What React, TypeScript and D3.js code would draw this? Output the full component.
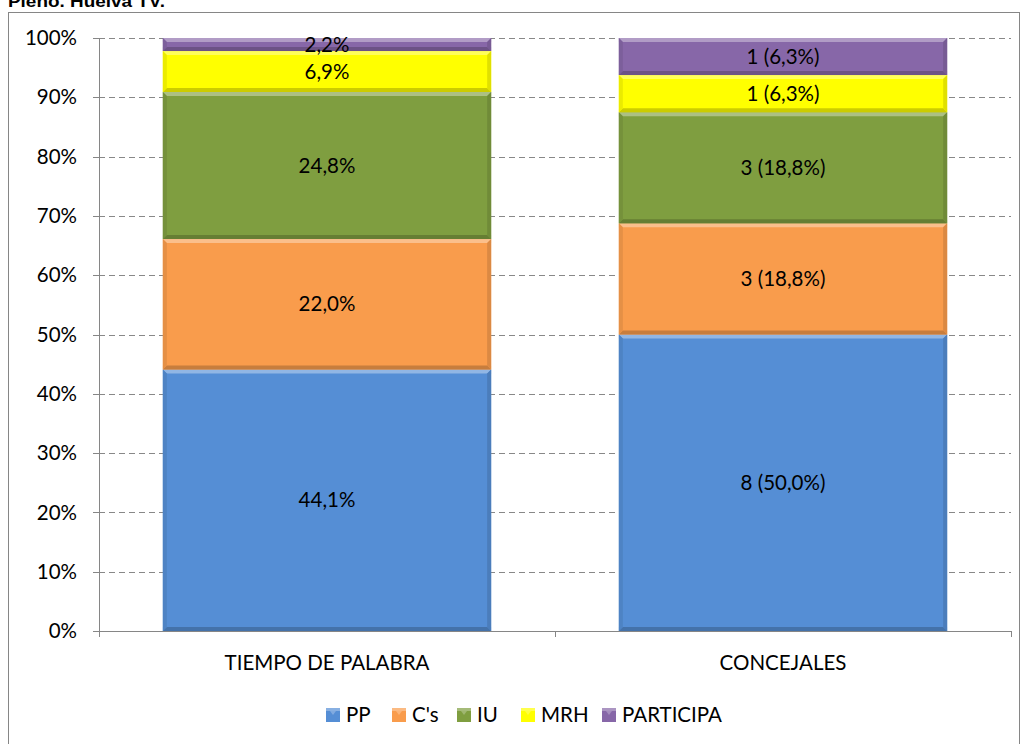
import React from 'react';
import * as d3 from 'd3';

const categories = ['TIEMPO DE PALABRA', 'CONCEJALES'];
const parties = ['PP', "C's", 'IU', 'MRH', 'PARTICIPA'];
const colors = ['#558ED5', '#F99C4C', '#7F9E40', '#FFFF00', '#8767A8'];
// percentages per party, one value per category
const tiempo = [44.1, 22.0, 24.8, 6.9, 2.2];
const concejales = [8, 3, 3, 1, 1];
const concejalesPct = [50.0, 18.75, 18.75, 6.25, 6.25];
const yTicks = [0, 10, 20, 30, 40, 50, 60, 70, 80, 90, 100];

const fmt = (v: number, d = 1) => v.toFixed(d).replace('.', ',');

const W = 1021;
const H = 744;
const margin = { left: 99, right: 10, top: 38, bottom: 113 };
const font = 'Lato, "Open Sans", sans-serif';
const fs = 20.5;

export default function App() {
  const x = d3.scaleBand<string>()
    .domain(categories)
    .range([margin.left, W - margin.right])
    .paddingInner(0.28)
    .paddingOuter(0.14);
  const band = d3.scaleBand<string>().domain(categories).range([margin.left, W - margin.right]);
  const y = d3.scaleLinear().domain([0, 100]).range([H - margin.bottom, margin.top]);

  const series = categories.map((c, ci) => {
    const vals = ci === 0 ? tiempo : concejalesPct;
    let acc = 0;
    return parties.map((p, pi) => {
      const y0 = acc;
      acc += vals[pi];
      const label = ci === 0 ? `${fmt(vals[pi])}%` : `${concejales[pi]} (${fmt(Math.round(vals[pi] * 10) / 10)}%)`;
      return { cat: c, party: p, pi, y0, y1: acc, label };
    });
  });

  const lighten = (c: string, k: number) => d3.interpolateRgb(c, '#ffffff')(k);
  const darken = (c: string, k: number) => d3.interpolateRgb(c, '#000000')(k);

  // legend icon positions
  const legendX = [326, 392, 457, 521, 602];

  return (
    <svg width={W} height={H} style={{ position: 'absolute', left: 0, top: 0 }} fontFamily={font}>
      <rect width={W} height={H} fill="#fff" />
      <text x={8} y={7} fontFamily='"Liberation Sans Narrow", "Arial Narrow", "Liberation Sans", sans-serif'
        fontWeight="bold" fontSize={17} textLength={157} lengthAdjust="spacingAndGlyphs">Pleno. Huelva TV.</text>
      <rect x={8.5} y={12.5} width={1011} height={745} fill="none" stroke="#868686" />

      {/* gridlines */}
      {yTicks.filter(t => t > 0).map(t => (
        <line key={t} x1={margin.left} x2={W - margin.right} y1={Math.round(y(t)) + 0.5} y2={Math.round(y(t)) + 0.5}
          stroke="#888" strokeDasharray="6,4" />
      ))}

      {/* bars */}
      {series.map(s => s.map(seg => {
        const bx = x(seg.cat)!;
        const bw = x.bandwidth();
        const top = y(seg.y1);
        const bot = y(seg.y0);
        const h = bot - top;
        const e = Math.min(4, h / 3);
        const col = colors[seg.pi];
        return (
          <g key={seg.cat + seg.party}>
            <rect x={bx} y={top} width={bw} height={h} fill={col} />
            <polygon points={`${bx},${top} ${bx + bw},${top} ${bx + bw - e},${top + e} ${bx + e},${top + e}`} fill={lighten(col, 0.35)} />
            <polygon points={`${bx},${bot} ${bx + bw},${bot} ${bx + bw - e},${bot - e} ${bx + e},${bot - e}`} fill={darken(col, 0.2)} />
            <polygon points={`${bx},${top} ${bx + e},${top + e} ${bx + e},${bot - e} ${bx},${bot}`} fill={darken(col, 0.08)} />
            <polygon points={`${bx + bw},${top} ${bx + bw - e},${top + e} ${bx + bw - e},${bot - e} ${bx + bw},${bot}`} fill={darken(col, 0.12)} />
            <text x={bx + bw / 2} y={(top + bot) / 2} dy="0.35em" textAnchor="middle" fontSize={fs} fill="#000">{seg.label}</text>
          </g>
        );
      }))}

      {/* y axis */}
      <line x1={margin.left + 0.5} x2={margin.left + 0.5} y1={y(100)} y2={y(0)} stroke="#868686" />
      {yTicks.map(t => (
        <g key={t}>
          <line x1={margin.left - 6} x2={margin.left} y1={Math.round(y(t)) + 0.5} y2={Math.round(y(t)) + 0.5} stroke="#868686" />
          <text x={77} y={y(t)} dy="0.35em" textAnchor="end" fontSize={fs}>{t}%</text>
        </g>
      ))}

      {/* x axis */}
      <line x1={margin.left} x2={W - margin.right} y1={Math.round(y(0)) + 0.5} y2={Math.round(y(0)) + 0.5} stroke="#868686" />
      {[...categories.map(c => band(c)!), W - margin.right].map((tx, i) => (
        <line key={i} x1={Math.round(tx) + 0.5} x2={Math.round(tx) + 0.5} y1={y(0)} y2={y(0) + 6} stroke="#868686" />
      ))}
      {categories.map(c => (
        <text key={c} x={band(c)! + band.bandwidth() / 2} y={663} dy="0.35em" textAnchor="middle" fontSize={fs}>{c}</text>
      ))}

      {/* legend */}
      {parties.map((p, i) => (
        <g key={p}>
          <rect x={legendX[i]} y={708} width={14} height={14} fill={colors[i]} />
          <rect x={legendX[i]} y={708} width={14} height={3} fill={lighten(colors[i], 0.3)} />
          <polygon points={`${legendX[i] + 4},${711} ${legendX[i] + 10},${711} ${legendX[i] + 7},${715}`} fill={lighten(colors[i], 0.25)} />
          <text x={legendX[i] + 20} y={715} dy="0.35em" fontSize={fs}>{p}</text>
        </g>
      ))}
    </svg>
  );
}
